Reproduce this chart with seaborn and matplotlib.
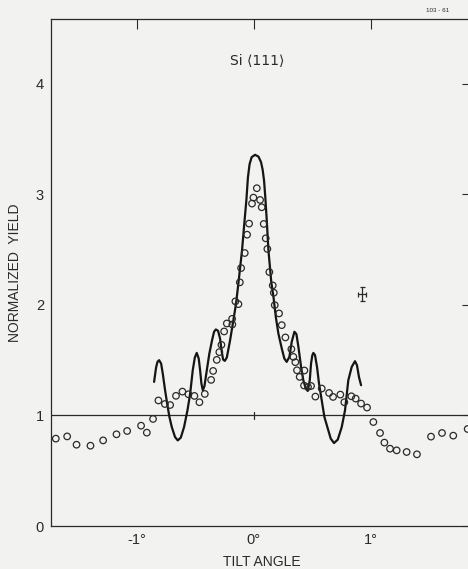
import matplotlib
matplotlib.use("Agg")
import matplotlib.pyplot as plt
import seaborn as sns
import numpy as np
import pandas as pd

# Measured yield (open circles): tilt angle in degrees, normalized yield
meas_angle = [-1.690, -1.593, -1.513, -1.394, -1.286, -1.172, -1.081, -0.962, -0.913,
              -0.860, -0.814, -0.759, -0.714, -0.664, -0.609, -0.558, -0.507, -0.464,
              -0.418, -0.364, -0.347, -0.316, -0.294, -0.276, -0.253, -0.230, -0.183,
              -0.185, -0.157, -0.131, -0.119, -0.108, -0.077, -0.057, -0.040, -0.015,
              -0.003, 0.026, 0.054, 0.068, 0.085, 0.102, 0.116, 0.133, 0.162, 0.171,
              0.179, 0.216, 0.239, 0.270, 0.321, 0.338, 0.355, 0.369, 0.392, 0.432,
              0.429, 0.463, 0.489, 0.526, 0.580, 0.643, 0.677, 0.739, 0.773, 0.833,
              0.870, 0.916, 0.967, 1.021, 1.078, 1.115, 1.163, 1.220, 1.305, 1.393,
              1.513, 1.607, 1.703, 1.826]
meas_yield = [0.790, 0.810, 0.735, 0.726, 0.774, 0.829, 0.859, 0.907, 0.844,
              0.968, 1.135, 1.103, 1.094, 1.177, 1.215, 1.191, 1.176, 1.119,
              1.194, 1.321, 1.402, 1.502, 1.572, 1.638, 1.759, 1.831, 1.822,
              1.873, 2.031, 2.006, 2.203, 2.332, 2.468, 2.634, 2.734, 2.915,
              2.969, 3.054, 2.948, 2.882, 2.731, 2.601, 2.505, 2.296, 2.175, 2.109,
              1.997, 1.922, 1.816, 1.705, 1.599, 1.529, 1.481, 1.408, 1.348, 1.406,
              1.270, 1.257, 1.266, 1.170, 1.243, 1.203, 1.167, 1.188, 1.119, 1.173,
              1.152, 1.107, 1.071, 0.940, 0.841, 0.754, 0.699, 0.684, 0.669, 0.648,
              0.808, 0.841, 0.817, 0.877]

# Calculated yield (solid curve)
calc_angle = [-0.851, -0.834, -0.822, -0.808, -0.791, -0.777, -0.757, -0.737, -0.720,
              -0.700, -0.672, -0.649, -0.623, -0.595, -0.566, -0.543, -0.521, -0.503,
              -0.487, -0.470, -0.458, -0.447, -0.435, -0.421, -0.401, -0.379, -0.356,
              -0.339, -0.324, -0.305, -0.288, -0.273, -0.262, -0.247, -0.230, -0.202,
              -0.174, -0.151, -0.135, -0.118, -0.100, -0.082, -0.063, -0.050, -0.036,
              -0.018, 0.011, 0.040, 0.062, 0.076, 0.088, 0.098, 0.110, 0.125, 0.150,
              0.168, 0.188, 0.210, 0.239, 0.261, 0.281, 0.304, 0.324, 0.347, 0.364,
              0.381, 0.404, 0.423, 0.444, 0.461, 0.478, 0.489, 0.500, 0.509, 0.523,
              0.540, 0.557, 0.580, 0.603, 0.628, 0.657, 0.685, 0.717, 0.751, 0.779,
              0.807, 0.836, 0.864, 0.881, 0.898, 0.916]
calc_yield = [1.303, 1.433, 1.484, 1.499, 1.469, 1.379, 1.227, 1.091, 0.986,
              0.895, 0.804, 0.774, 0.799, 0.895, 1.046, 1.197, 1.408, 1.524,
              1.565, 1.514, 1.408, 1.288, 1.227, 1.264, 1.408, 1.560, 1.680,
              1.756, 1.777, 1.765, 1.696, 1.574, 1.505, 1.493, 1.524, 1.680,
              1.861, 2.013, 2.160, 2.320, 2.495, 2.720, 2.948, 3.150, 3.270,
              3.335, 3.356, 3.340, 3.290, 3.220, 3.120, 2.980, 2.780, 2.495, 2.200,
              2.073, 1.891, 1.741, 1.605, 1.514, 1.484, 1.529, 1.665, 1.756, 1.735,
              1.620, 1.438, 1.318, 1.243, 1.221, 1.318, 1.469, 1.544, 1.565, 1.544,
              1.438, 1.288, 1.137, 0.986, 0.895, 0.790, 0.750, 0.781, 0.895, 1.046,
              1.318, 1.438, 1.490, 1.454, 1.348, 1.273]

x_ticks = [-1, 0, 1]
x_tick_labels = ["-1°", "0°", "1°"]
y_ticks = [0, 1, 2, 3, 4]

# Typical uncertainty of a single measurement
err_angle, err_yield = 0.924, 2.10
err_dx, err_dy = 0.033, 0.063

ink = "#2a2a2a"
paper = "#f2f2f0"

sns.set_theme(style="white")
plt.rcParams["font.family"] = ["Liberation Sans", "DejaVu Sans"]

fig = plt.figure(figsize=(4.68, 5.69), dpi=100, facecolor=paper)
ax = fig.add_axes([51 / 468, 43 / 569, 421 / 468, 507 / 569])
ax.set_facecolor(paper)

meas = pd.DataFrame({"angle": meas_angle, "yield": meas_yield})
calc = pd.DataFrame({"angle": calc_angle, "yield": calc_yield})

# Unit yield reference line and its small mark at zero tilt
ax.axhline(1.0, color=ink, lw=0.9, zorder=1)
ax.plot([0, 0], [0.965, 1.035], color=ink, lw=0.9, zorder=1)

sns.lineplot(data=calc, x="angle", y="yield", sort=False, estimator=None,
             color="#151515", lw=1.6, ax=ax, zorder=3)
sns.scatterplot(data=meas, x="angle", y="yield", ax=ax, marker="o", s=22,
                facecolor="none", edgecolor=ink, linewidth=0.9, zorder=4)

ax.errorbar([err_angle], [err_yield], xerr=[err_dx], yerr=[err_dy], fmt="none",
            ecolor=ink, elinewidth=0.9, capsize=1.8, capthick=0.9)

ax.set_xlim(-1.731, 1.863)
ax.set_ylim(0, 4.584)

ax.set_xticks(x_ticks)
ax.set_xticklabels(x_tick_labels)
ax.set_yticks(y_ticks)
ax.tick_params(axis="both", direction="in", length=7.5, width=0.8, color=ink,
               labelcolor=ink, labelsize=10.5, top=True, right=True)
ax.tick_params(axis="x", pad=5)
ax.tick_params(axis="y", pad=5)

for side in ["left", "bottom", "top"]:
    ax.spines[side].set_visible(True)
    ax.spines[side].set_color(ink)
    ax.spines[side].set_linewidth(0.9)
ax.spines["right"].set_visible(False)

ax.set_xlabel("TILT ANGLE", fontsize=10, color=ink, labelpad=6)
ax.set_ylabel("NORMALIZED  YIELD", fontsize=10, color=ink, labelpad=10)

ax.text(0.03, 4.20, "Si \u27e8111\u27e9", fontsize=10, color=ink,
        ha="center", va="center", family=["DejaVu Sans"])
fig.text(438 / 468, 1 - 11 / 569, "103 - 61", fontsize=4.5, color=ink,
         ha="center", va="center")

fig.savefig("out.png", dpi=100, facecolor=paper)
